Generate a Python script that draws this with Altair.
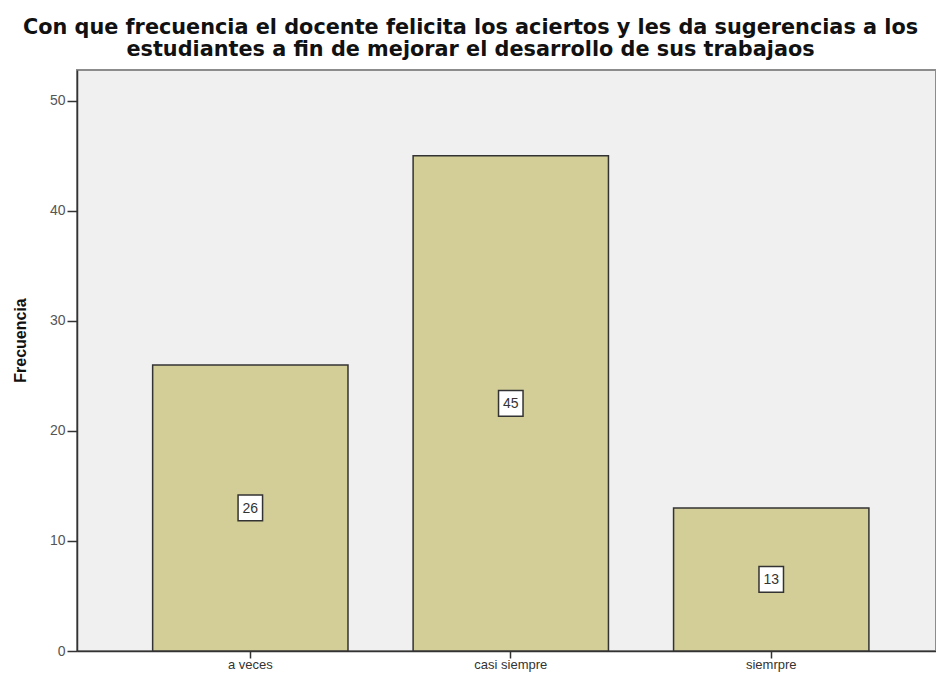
import altair as alt
import pandas as pd

categories = ["a veces", "casi siempre", "siemrpre"]
frecuencia = [26, 45, 13]
y_ticks = [0, 10, 20, 30, 40, 50]
title_lines = [
    "Con que frecuencia el docente felicita los aciertos y les da sugerencias a los",
    "estudiantes a fin de mejorar el desarrollo de sus trabajaos",
]

df = pd.DataFrame({"cat": categories, "n": frecuencia})
df["mid"] = df["n"] / 2

FONT = "Liberation Sans"

x_enc = alt.X(
    "cat:N",
    sort=categories,
    scale=alt.Scale(paddingInner=0.25, paddingOuter=0.274, align=0.53),
    axis=alt.Axis(
        title=None, labelAngle=0, tickSize=7, tickColor="#333333", tickWidth=1.5,
        domainColor="#333333", domainWidth=1.5, labelFont=FONT, labelFontSize=13,
        labelColor="#333333", labelPadding=0,
    ),
)

bars = alt.Chart(df).mark_bar(
    fill="#d3ce97", stroke="#333333", strokeWidth=1.5
).encode(
    x=x_enc,
    y=alt.Y(
        "n:Q",
        scale=alt.Scale(domain=[0, 52.8], nice=False, zero=True),
        axis=alt.Axis(
            values=y_ticks, grid=False, tickSize=10, tickColor="#333333", tickWidth=1.5,
            domainColor="#333333", domainWidth=1.5, labelFont=FONT, labelFontSize=14,
            labelColor="#555555", labelPadding=2, title="Frecuencia",
            titleFont=FONT, titleFontSize=16, titleFontWeight="bold", titleColor="#111111",
            titleAngle=-90, titleX=-57, titleY=270, titleAlign="center", titleBaseline="middle",
        ),
    ),
)

boxes = alt.Chart(df).mark_point(
    shape="M-1,-1.05H1V1.05H-1Z", size=600, filled=True, fill="white",
    stroke="#333333", strokeWidth=1.5, opacity=1,
).encode(x=alt.X("cat:N", sort=categories), y=alt.Y("mid:Q"))

labels = alt.Chart(df).mark_text(
    font=FONT, fontSize=14, color="#333333", baseline="middle", align="center", dy=1
).encode(x=alt.X("cat:N", sort=categories), y=alt.Y("mid:Q"), text="n:Q")

chart = alt.layer(bars, boxes, labels).properties(
    width=859,
    height=581,
    background="white",
    autosize=alt.AutoSizeParams(type="none"),
    padding={"left": 69, "top": 62, "right": 0, "bottom": 22},
    title=alt.TitleParams(
        text=title_lines, font="DejaVu Sans", fontSize=20.8, fontWeight="bold", color="#111111",
        anchor="middle", frame="group", dx=-36, offset=9, lineHeight=22,
    ),
).configure_view(
    fill="#f0f0f0", stroke="#8c8c8c", strokeWidth=2
)

chart.save("out.html", embed_options={"renderer": "svg", "actions": False})
